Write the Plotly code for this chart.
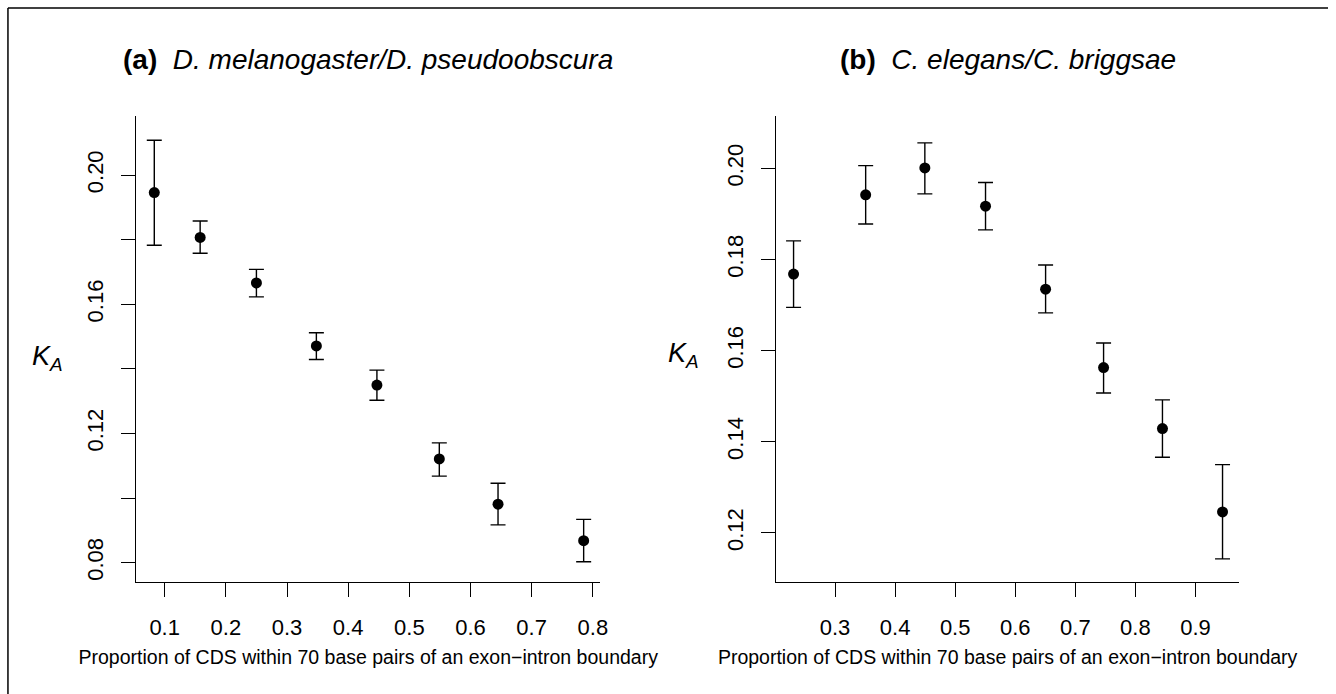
import plotly.graph_objects as go

W, H = 1336, 694

# Panel (a) D. melanogaster / D. pseudoobscura
a_x = [0.083, 0.158, 0.250, 0.348, 0.447, 0.549, 0.645, 0.785]
a_y = [0.1946, 0.1807, 0.1666, 0.1471, 0.1350, 0.1121, 0.0981, 0.0868]
a_hi = [0.2108, 0.1858, 0.1708, 0.1512, 0.1396, 0.1171, 0.1046, 0.0934]
a_lo = [0.1783, 0.1758, 0.1623, 0.1429, 0.1303, 0.1068, 0.0917, 0.0803]

# Panel (b) C. elegans / C. briggsae
b_x = [0.231, 0.351, 0.4495, 0.5505, 0.6505, 0.747, 0.845, 0.945]
b_y = [0.1768, 0.1942, 0.2001, 0.1917, 0.1735, 0.1563, 0.1429, 0.1246]
b_hi = [0.1841, 0.2006, 0.2056, 0.1969, 0.1788, 0.1617, 0.1492, 0.1350]
b_lo = [0.1695, 0.1878, 0.1944, 0.1865, 0.1683, 0.1507, 0.1366, 0.1143]

a_xticks = [0.1, 0.2, 0.3, 0.4, 0.5, 0.6, 0.7, 0.8]
a_xticklabels = ["0.1", "0.2", "0.3", "0.4", "0.5", "0.6", "0.7", "0.8"]
a_yticks = [0.08, 0.10, 0.12, 0.14, 0.16, 0.18, 0.20]
a_yticklabels = ["0.08", "", "0.12", "", "0.16", "", "0.20"]
b_xticks = [0.3, 0.4, 0.5, 0.6, 0.7, 0.8, 0.9]
b_xticklabels = ["0.3", "0.4", "0.5", "0.6", "0.7", "0.8", "0.9"]
b_yticks = [0.12, 0.14, 0.16, 0.18, 0.20]
b_yticklabels = ["0.12", "0.14", "0.16", "0.18", "0.20"]

title_a = "<b>(a)</b>  <i>D. melanogaster/D. pseudoobscura</i>"
title_b = "<b>(b)</b>  <i>C. elegans/C. briggsae</i>"
xlabel = "Proportion of CDS within 70 base pairs of an exon\u2212intron boundary"
ylabel = "<i>K<sub>A</sub></i>"

FONT = "Liberation Sans, Arial, Helvetica, sans-serif"


def px_x(p):
    return p / W


def px_y(p):
    return (H - p) / H


fig = go.Figure()


def add_panel(x, y, hi, lo, xa, ya):
    fig.add_trace(go.Scatter(
        x=x, y=y, mode="markers", xaxis=xa, yaxis=ya,
        marker=dict(color="black", size=11),
        error_y=dict(type="data", symmetric=False,
                     array=[h - v for h, v in zip(hi, y)],
                     arrayminus=[v - l for v, l in zip(y, lo)],
                     color="black", thickness=1.4, width=7.5),
        showlegend=False, hoverinfo="skip"))


add_panel(a_x, a_y, a_hi, a_lo, "x", "y")
add_panel(b_x, b_y, b_hi, b_lo, "x2", "y2")

ydom = [px_y(581.7), px_y(116)]
axcommon = dict(showline=True, linecolor="black", linewidth=1.4, ticks="outside",
                ticklen=14, tickwidth=1.4, tickcolor="black", showgrid=False,
                zeroline=False, mirror=False,
                tickfont=dict(family=FONT, size=22, color="black"))

xtitle = dict(text=xlabel, font=dict(size=19.5, family=FONT), standoff=11)

fig.update_layout(
    width=W, height=H, margin=dict(l=0, r=0, t=0, b=0),
    paper_bgcolor="white", plot_bgcolor="white",
    font=dict(family=FONT, color="black"),
    xaxis=dict(domain=[px_x(137.3), px_x(603.6)], range=[0.0539, 0.8117],
               tickvals=a_xticks, ticktext=a_xticklabels, anchor="y",
               ticklabelstandoff=12, title=xtitle, **axcommon),
    yaxis=dict(domain=ydom, range=[0.0741, 0.2183], tickvals=a_yticks,
               ticktext=a_yticklabels, tickangle=-90, anchor="x",
               ticklabelstandoff=9, **axcommon),
    xaxis2=dict(domain=[px_x(780.7), px_x(1246.7)], range=[0.2018, 0.9728],
                tickvals=b_xticks, ticktext=b_xticklabels, anchor="y2",
                ticklabelstandoff=12, title=xtitle, **axcommon),
    yaxis2=dict(domain=ydom, range=[0.1093, 0.2115], tickvals=b_yticks,
                ticktext=b_yticklabels, tickangle=-90, anchor="x2",
                ticklabelstandoff=9, **axcommon),
)

annots = [
    dict(text=title_a, x=px_x(370.5), y=px_y(60), xanchor="center", yanchor="middle",
         font=dict(size=28, family=FONT)),
    dict(text=title_b, x=px_x(1013.7), y=px_y(60), xanchor="center", yanchor="middle",
         font=dict(size=28, family=FONT)),
    dict(text=ylabel, x=px_x(30), y=px_y(358), xanchor="left", yanchor="middle",
         font=dict(size=27, family=FONT)),
    dict(text=ylabel, x=px_x(670), y=px_y(355), xanchor="left", yanchor="middle",
         font=dict(size=27, family=FONT)),
]
for a in annots:
    a.update(xref="paper", yref="paper", showarrow=False)
fig.update_layout(annotations=annots)

fig.add_shape(type="line", xref="paper", yref="paper", x0=px_x(8), x1=1.0,
              y0=px_y(8), y1=px_y(8), line=dict(color="black", width=1.5))
fig.add_shape(type="line", xref="paper", yref="paper", x0=px_x(8), x1=px_x(8),
              y0=0, y1=px_y(8), line=dict(color="black", width=1.5))

fig.write_html("out.html")
